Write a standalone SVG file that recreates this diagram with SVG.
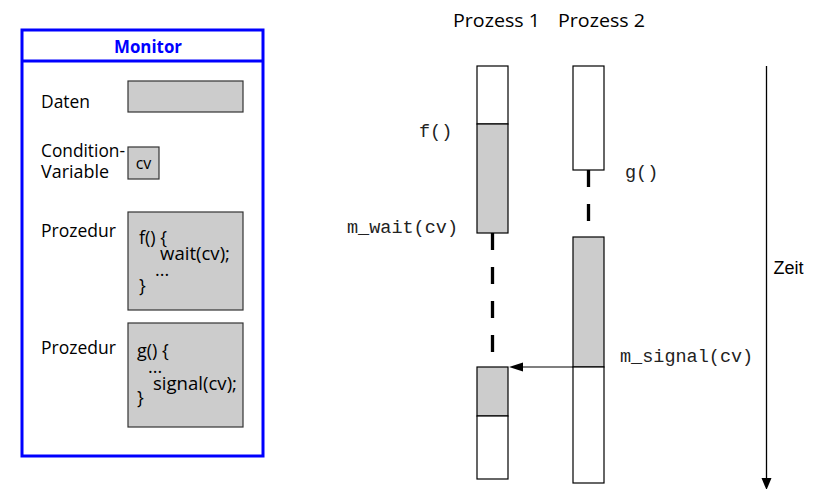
<svg xmlns="http://www.w3.org/2000/svg" width="823" height="489" viewBox="0 0 823 489">
  <style>
    .sans { font-family: "Open Sans", "DejaVu Sans", sans-serif; fill: #000; }
    .lbl { font-size: 17.5px; }
    .code { font-size: 18px; }
    .mono { font-family: "Liberation Mono", "DejaVu Sans Mono", monospace; font-size: 18.5px; fill: #222; }
    .helv { font-family: "Liberation Sans", Arial, sans-serif; font-size: 18px; fill: #000; }
    .slot { fill: #cccccc; stroke: #333; stroke-width: 1.2; }
    .idle { fill: #ffffff; stroke: #000; stroke-width: 1.2; }
    .busy { fill: #cccccc; stroke: #000; stroke-width: 1.2; }
    .wait { stroke: #000; stroke-width: 3.3; stroke-dasharray: 17 17; fill: none; }
  </style>

  <!-- Monitor box -->
  <g id="monitor">
    <rect x="22" y="30" width="241" height="426" fill="#fff" stroke="#0000ff" stroke-width="3"/>
    <line x1="22" y1="61" x2="263" y2="61" stroke="#0000ff" stroke-width="3"/>
    <text x="114" y="53" font-family="Open Sans, DejaVu Sans, sans-serif" font-weight="bold" font-size="17" fill="#0000ff" textLength="68" lengthAdjust="spacingAndGlyphs">Monitor</text>
  </g>

  <g id="daten">
    <text class="sans lbl" x="41" y="107.5" textLength="49" lengthAdjust="spacingAndGlyphs">Daten</text>
    <rect class="slot" x="128" y="81" width="115" height="31"/>
  </g>

  <g id="condvar">
    <text class="sans lbl" x="41" y="157" textLength="84" lengthAdjust="spacingAndGlyphs">Condition-</text>
    <text class="sans lbl" x="41" y="178" textLength="68" lengthAdjust="spacingAndGlyphs">Variable</text>
    <rect class="slot" x="128" y="147" width="31" height="32"/>
    <text class="sans" x="143.5" y="169" font-size="16" text-anchor="middle">cv</text>
  </g>

  <g id="prozedur-f">
    <text class="sans lbl" x="41" y="237" textLength="75" lengthAdjust="spacingAndGlyphs">Prozedur</text>
    <rect class="slot" x="128" y="212" width="115" height="98"/>
    <text class="sans code" x="139" y="244">f() {</text>
    <text class="sans code" x="160" y="260" textLength="70" lengthAdjust="spacingAndGlyphs">wait(cv);</text>
    <text class="sans code" x="155" y="276">...</text>
    <text class="sans code" x="139" y="292">}</text>
  </g>

  <g id="prozedur-g">
    <text class="sans lbl" x="41" y="354" textLength="75" lengthAdjust="spacingAndGlyphs">Prozedur</text>
    <rect class="slot" x="128" y="323" width="115" height="104"/>
    <text class="sans code" x="137" y="357">g() {</text>
    <text class="sans code" x="148" y="373">...</text>
    <text class="sans code" x="153" y="390" textLength="84" lengthAdjust="spacingAndGlyphs">signal(cv);</text>
    <text class="sans code" x="137" y="404">}</text>
  </g>

  <!-- Process headers -->
  <g id="headers">
    <text class="sans" x="453" y="27" font-size="19" textLength="87" lengthAdjust="spacingAndGlyphs">Prozess 1</text>
    <text class="sans" x="558" y="27" font-size="19" textLength="87" lengthAdjust="spacingAndGlyphs">Prozess 2</text>
  </g>

  <!-- Process 1 timeline -->
  <g id="prozess1">
    <rect class="idle" x="477" y="66" width="31" height="58"/>
    <rect class="busy" x="477" y="124" width="31" height="109"/>
    <rect class="busy" x="477" y="367" width="31" height="49"/>
    <rect class="idle" x="477" y="416" width="31" height="63"/>
    <text class="mono" x="419" y="137">f()</text>
    <text class="mono" x="347" y="233">m_wait(cv)</text>
  </g>

  <!-- Process 2 timeline -->
  <g id="prozess2">
    <rect class="idle" x="573" y="66" width="31" height="104"/>
    <rect class="busy" x="573" y="237" width="31" height="130"/>
    <rect class="idle" x="573" y="367" width="31" height="116"/>
    <text class="mono" x="625" y="178">g()</text>
    <text class="mono" x="620" y="362">m_signal(cv)</text>
  </g>

  <!-- Time axis -->
  <g id="zeit">
    <line x1="766.5" y1="66" x2="766.5" y2="479" stroke="#000" stroke-width="1.3"/>
    <polygon points="761.5,478 771.5,478 766.5,490" fill="#000"/>
    <text class="helv" x="773.5" y="274">Zeit</text>
  </g>

  <!-- Connectors -->
  <g id="connectors">
    <line class="wait" x1="492.5" y1="233" x2="492.5" y2="367"/>
    <line class="wait" x1="588.5" y1="170" x2="588.5" y2="237"/>
    <line x1="573" y1="367" x2="521" y2="367" stroke="#000" stroke-width="1.2"/>
    <polygon points="509,367 523,362.5 523,371.5" fill="#000"/>
  </g>
</svg>
